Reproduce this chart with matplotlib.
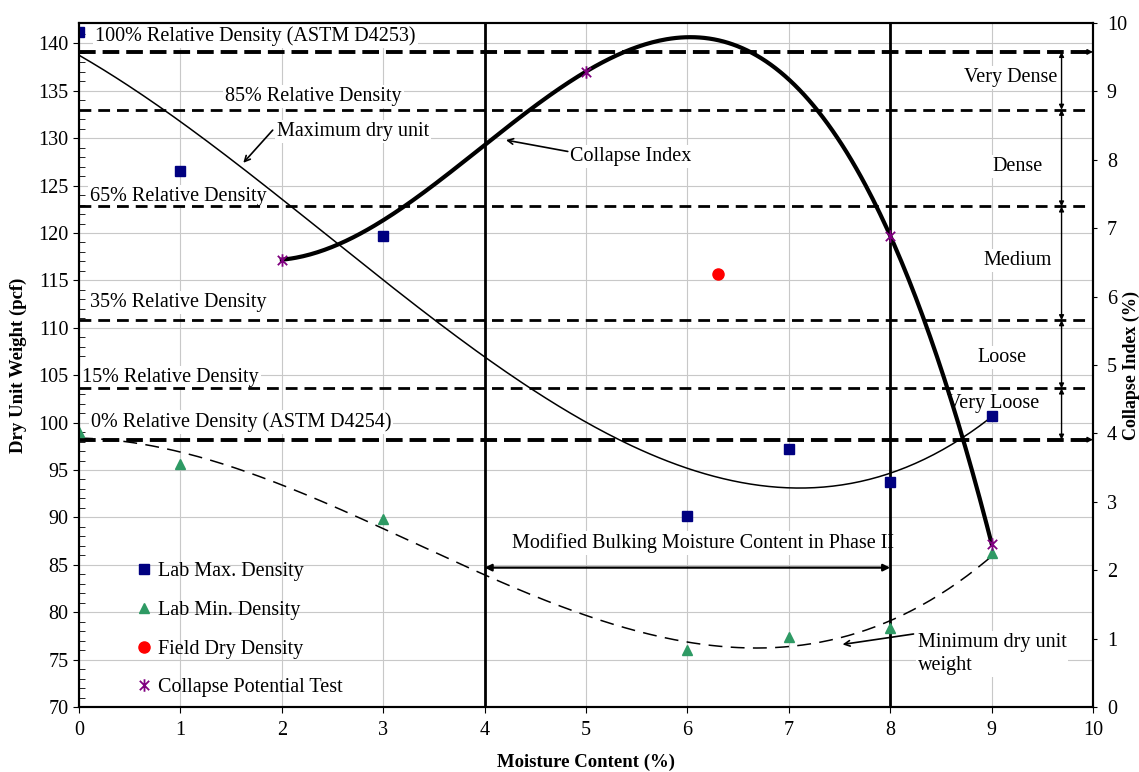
import matplotlib
matplotlib.use('Agg')
import matplotlib.pyplot as plt
import numpy as np
from matplotlib.path import Path

plt.rcParams['font.family'] = ['Liberation Serif', 'DejaVu Serif']
plt.rcParams['lines.scale_dashes'] = False

# Laboratory and field results
moisture = [0, 1, 3, 6, 7, 8, 9]
lab_max = [141.2, 126.5, 119.7, 90.1, 97.2, 93.7, 100.7]
lab_min = [99.0, 95.6, 89.8, 76.0, 77.4, 78.3, 86.2]
field_moisture = [6.3]
field_density = [115.7]
collapse_moisture = [2, 5, 8, 9]
collapse_index = [6.54, 9.29, 6.89, 2.39]

# Relative density reference levels (pcf)
density_weights = [139.1, 133.0, 122.8, 110.8, 103.6, 98.2]
density_labels = ['100% Relative Density (ASTM D4253)', '85% Relative Density',
                  '65% Relative Density', '35% Relative Density',
                  '15% Relative Density', '0% Relative Density (ASTM D4254)']
consistency = ['Very Dense', 'Dense', 'Medium', 'Loose', 'Very Loose']
bulking_range = [4, 8]

FS = 14.5


def trendline(x, y, deg, x0, x1):
    coef = np.polyfit(x, y, deg)
    xs = np.linspace(x0, x1, 300)
    return xs, np.polyval(coef, xs)


fig = plt.figure(figsize=(11.39, 7.72), dpi=100)
ax = fig.add_axes([0.0694, 0.0842, 0.8902, 0.886])
ax2 = ax.twinx()

ax.set_xlim(0, 10)
ax.set_ylim(70, 142.15)
ax2.set_ylim(0, 10)

ax.set_xticks(range(0, 11))
ax.set_yticks(range(70, 141, 5))
ax.set_yticks(range(70, 142), minor=True)
ax2.set_yticks(range(0, 11))
ax.grid(True, which='major', color='#c8c8c8', lw=0.8, zorder=0)
ax.set_axisbelow(True)

ax.tick_params(axis='both', which='major', labelsize=FS, direction='out', length=4)
ax.tick_params(axis='x', pad=6)
ax.tick_params(axis='y', which='minor', direction='in', length=4)
ax2.tick_params(axis='y', labelsize=FS, direction='out', length=3, pad=7)
for a in (ax, ax2):
    for s in a.spines.values():
        s.set_linewidth(1.5)

# relative density levels
box = dict(facecolor='white', edgecolor='none', pad=1.5)
label_pos = [(0.16, 140.8), (1.44, 134.4), (0.11, 123.8), (0.11, 112.7),
             (0.03, 104.8), (0.115, 100.1)]
for i, (w, lab) in enumerate(zip(density_weights, density_labels)):
    thick = i in (0, len(density_weights) - 1)
    if thick:
        ax.axhline(w, color='black', lw=2.8, ls=(0, (12, 5)), zorder=3)
        ax.annotate('', xy=(10, w), xytext=(9.8, w),
                    arrowprops=dict(arrowstyle='-|>', color='black', lw=1,
                                    mutation_scale=8, shrinkA=0, shrinkB=0), zorder=4)
    else:
        ax.axhline(w, color='black', lw=2.0, ls=(0, (8.5, 5)), zorder=3)
    tx, ty = label_pos[i]
    ax.text(tx, ty, lab, fontsize=FS, ha='left', va='center', bbox=box, zorder=1.5)

# consistency ranges
arrow_x = 9.69
cons_pos = [(9.19, 136.4), (9.26, 127.05), (9.26, 117.1), (9.10, 106.9), (9.02, 102.05)]
for i, name in enumerate(consistency):
    ax.annotate('', xy=(arrow_x, density_weights[i]), xytext=(arrow_x, density_weights[i + 1]),
                arrowprops=dict(arrowstyle='<|-|>', color='black', lw=1,
                                mutation_scale=7, shrinkA=0, shrinkB=0), zorder=4)
    ax.text(cons_pos[i][0], cons_pos[i][1], name, fontsize=FS, ha='center', va='center',
            bbox=box, zorder=1.5)

# bulking moisture limits
for xb in bulking_range:
    ax.axvline(xb, color='black', lw=2.0, zorder=3)
ax.annotate('', xy=(bulking_range[1], 84.7), xytext=(bulking_range[0], 84.7),
            arrowprops=dict(arrowstyle='<|-|>', color='black', lw=1.6,
                            mutation_scale=10, shrinkA=0, shrinkB=0), zorder=4)
ax.text(6.15, 87.3, 'Modified Bulking Moisture Content in Phase II', fontsize=FS,
        ha='center', va='center', bbox=box, zorder=1.5)

# trendlines
xs, ys = trendline(moisture, lab_max, 3, 0, 9)
ax.plot(xs, ys, color='black', lw=1.1, zorder=3)
xs, ys = trendline(moisture, lab_min, 3, 0, 9)
ax.plot(xs, ys, color='black', lw=1.1, ls=(0, (10, 6)), zorder=3)
xs, ys = trendline(collapse_moisture, collapse_index, 3, 2, 9)
ax2.plot(xs, ys, color='black', lw=3.0, zorder=3)

# data points
h1, = ax.plot(moisture, lab_max, 's', color='#000080', ms=7, label='Lab Max. Density', zorder=5)
h2, = ax.plot(moisture, lab_min, '^', color='#2e9a64', ms=7, label='Lab Min. Density', zorder=5)
h3, = ax.plot(field_moisture, field_density, 'o', color='#ff0000', ms=8,
              label='Field Dry Density', zorder=5)
star = Path([(0, -1), (0, 1), (-0.75, -0.75), (0.75, 0.75), (-0.75, 0.75), (0.75, -0.75)],
            [Path.MOVETO, Path.LINETO] * 3)
h4, = ax2.plot(collapse_moisture, collapse_index, ls='none', marker=star, ms=9,
               mec='#800080', mew=1.3, label='Collapse Potential Test', zorder=5)

# callouts: text boxes plus separate leader arrows
arr = dict(arrowstyle='->', color='black', lw=1.2, shrinkA=0, shrinkB=0)
callouts = [
    ('Maximum dry unit', (1.95, 130.7), (1.62, 127.4), (1.91, 130.85)),
    ('Collapse Index', (4.84, 128.1), (4.21, 129.8), (4.82, 128.6)),
    ('Minimum dry unit\nweight', (8.27, 75.6), (7.53, 76.6), (8.23, 77.7)),
]
for txt, pos, head, tail in callouts:
    ax.text(pos[0], pos[1], txt, fontsize=FS, ha='left', va='center', bbox=box,
            zorder=1.5, linespacing=1.25)
    ax.annotate('', xy=head, xytext=tail, arrowprops=arr, zorder=4)

ax2.legend(handles=[h1, h2, h3, h4], loc='lower left', bbox_to_anchor=(0.054, 0.014),
           frameon=False, fontsize=FS, handlelength=1.0, handletextpad=0.2,
           labelspacing=0.98, borderpad=0, borderaxespad=0)

ax.set_xlabel('Moisture Content (%)', fontsize=13.5, fontweight='bold')
ax.set_ylabel('Dry Unit Weight (pcf)', fontsize=13.5, fontweight='bold')
ax2.set_ylabel('Collapse Index (%)', fontsize=13, fontweight='bold', rotation=90)
ax.xaxis.set_label_coords(0.5, -0.0685)
ax.yaxis.set_label_coords(-0.0515, 0.5)
ax2.yaxis.set_label_coords(1.0295, 0.5)

fig.savefig('out.png', dpi=100)
